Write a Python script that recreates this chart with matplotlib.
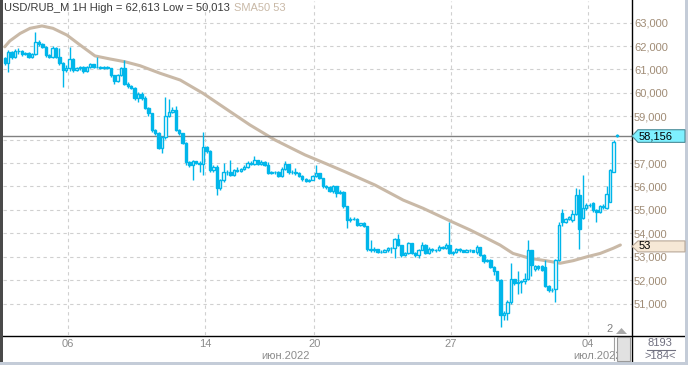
import matplotlib
matplotlib.use('Agg')
import matplotlib.pyplot as plt
import matplotlib.transforms as mtransforms
from matplotlib.patches import Polygon, Rectangle
from matplotlib.lines import Line2D
import numpy as np

plt.rcParams['font.family'] = ['Liberation Sans', 'DejaVu Sans']

# USD/RUB_M, 1H bars (price in RUB)
opens = [61.48, 61.28, 61.75, 61.52, 61.78, 61.80, 61.66, 61.72, 61.55, 61.68,
         62.18, 62.10, 61.96, 61.62, 61.55, 61.90, 61.55, 61.28, 60.98, 61.05,
         61.45, 60.98, 61.08, 61.12, 60.92, 61.10, 61.22, 61.10, 61.12, 61.08,
         61.12, 61.05, 60.75, 60.50, 60.78, 61.05, 60.38, 60.30, 60.22, 59.77,
         59.95, 59.80, 59.34, 59.12, 58.42, 58.30, 57.63, 58.10, 59.00, 59.20,
         59.25, 58.42, 58.28, 57.85, 57.06, 56.90, 57.08, 57.02, 56.98, 57.70,
         57.50, 56.70, 56.85, 55.92, 56.28, 56.63, 56.60, 56.50, 56.70, 56.68,
         56.75, 56.84, 57.02, 56.95, 57.13, 56.95, 57.05, 56.92, 56.57, 56.62,
         56.60, 56.45, 56.76, 56.95, 56.60, 56.62, 56.58, 56.45, 56.30, 56.22,
         56.28, 56.43, 56.56, 56.35, 56.00, 55.97, 55.80, 56.00, 55.72, 55.78,
         55.15, 54.58, 54.62, 54.60, 54.36, 54.43, 54.30, 53.35, 53.30, 53.33,
         53.20, 53.22, 53.28, 53.36, 53.38, 53.74, 53.50, 53.08, 53.15, 53.57,
         53.15, 53.08, 53.30, 53.52, 53.15, 53.35, 53.28, 53.30, 53.42, 53.38,
         53.50, 53.15, 53.20, 53.32, 53.28, 53.22, 53.30, 53.28, 53.22, 53.40,
         53.08, 52.80, 52.88, 52.58, 52.38, 52.00, 50.50, 50.60, 51.08, 52.03,
         51.86, 51.90, 51.95, 52.05, 53.28, 52.48, 52.62, 52.60, 52.56, 51.76,
         51.57, 51.60, 52.86, 54.85, 54.50, 54.60, 54.58, 54.82, 55.64, 54.64,
         55.07, 55.20, 55.28, 55.00, 54.90, 55.12, 55.07, 55.35, 56.63, 58.20]
highs = [61.55, 61.85, 61.80, 61.88, 61.90, 61.82, 61.76, 61.74, 61.72, 62.61,
         62.26, 62.14, 62.00, 61.68, 62.02, 61.94, 61.90, 61.32, 61.20, 61.97,
         61.48, 61.12, 61.15, 61.14, 61.15, 61.28, 61.24, 61.55, 61.14, 61.15,
         61.14, 61.08, 60.78, 60.82, 61.12, 61.40, 60.45, 60.35, 60.25, 60.05,
         60.02, 59.85, 59.40, 59.15, 58.45, 58.32, 58.15, 59.84, 59.75, 59.40,
         59.42, 58.45, 58.30, 57.90, 57.10, 57.15, 57.10, 57.10, 58.34, 57.75,
         57.55, 56.90, 56.90, 56.32, 57.00, 56.70, 57.12, 56.75, 56.85, 56.80,
         56.90, 57.10, 57.10, 57.30, 57.15, 57.12, 57.08, 57.05, 56.66, 56.65,
         56.65, 56.82, 57.10, 56.96, 56.70, 56.78, 56.62, 56.50, 56.35, 56.32,
         56.50, 56.90, 56.58, 56.38, 56.05, 56.00, 56.05, 56.02, 55.85, 55.80,
         55.18, 54.68, 54.70, 54.65, 54.45, 54.50, 54.32, 53.72, 53.40, 53.34,
         53.27, 53.32, 53.40, 53.42, 53.80, 53.98, 53.52, 53.20, 53.62, 53.60,
         53.20, 53.35, 53.62, 53.55, 53.40, 53.38, 53.35, 53.48, 53.46, 53.60,
         54.50, 53.25, 53.38, 53.36, 53.30, 53.35, 53.34, 53.30, 53.50, 53.42,
         53.10, 52.92, 52.90, 52.60, 52.40, 52.05, 50.70, 51.15, 52.75, 52.05,
         52.40, 52.00, 52.30, 53.70, 53.30, 52.66, 52.64, 52.66, 52.85, 51.80,
         51.65, 52.90, 54.50, 55.05, 54.65, 54.75, 55.00, 55.92, 55.88, 56.50,
         55.30, 55.30, 55.32, 55.05, 55.22, 55.25, 56.00, 56.75, 58.00, 58.25]
lows = [61.20, 60.90, 61.45, 61.50, 61.68, 61.58, 61.60, 61.48, 61.50, 61.62,
        62.00, 61.90, 61.55, 61.48, 61.50, 61.48, 61.20, 60.27, 60.90, 60.95,
        60.90, 60.95, 60.98, 60.85, 60.88, 61.05, 61.05, 61.05, 61.00, 61.02,
        61.00, 60.70, 60.40, 60.45, 60.72, 60.33, 60.20, 60.15, 59.70, 59.62,
        59.70, 59.30, 59.00, 58.35, 58.20, 57.60, 57.42, 58.05, 58.95, 59.15,
        58.38, 58.20, 57.80, 56.92, 56.85, 56.28, 56.95, 56.60, 56.50, 57.45,
        56.60, 56.60, 55.64, 55.85, 56.20, 56.50, 56.45, 56.45, 56.60, 56.60,
        56.70, 56.80, 56.90, 56.92, 56.90, 56.92, 56.88, 56.52, 56.52, 56.55,
        56.40, 56.42, 56.70, 56.55, 56.55, 56.50, 56.40, 56.25, 56.18, 56.20,
        56.26, 56.40, 56.30, 55.95, 55.90, 55.75, 55.72, 55.55, 55.70, 55.10,
        54.21, 54.50, 54.55, 54.30, 54.30, 54.25, 53.25, 53.20, 53.22, 53.15,
        53.15, 53.18, 53.20, 53.15, 52.95, 53.45, 53.00, 53.05, 53.10, 53.10,
        52.98, 52.95, 53.28, 53.10, 53.10, 53.20, 53.22, 53.25, 53.32, 53.35,
        53.10, 53.08, 53.15, 53.20, 53.18, 53.20, 53.22, 53.18, 53.12, 53.02,
        52.75, 52.78, 52.50, 52.22, 51.95, 50.01, 50.30, 50.30, 51.00, 51.80,
        51.40, 51.45, 51.85, 52.00, 52.17, 52.40, 52.45, 52.40, 51.70, 51.50,
        51.50, 51.08, 52.80, 54.30, 54.45, 54.55, 54.50, 54.80, 53.32, 54.60,
        55.00, 55.12, 54.90, 54.50, 54.85, 55.05, 55.05, 55.35, 56.60, 58.10]
closes = [61.28, 61.75, 61.52, 61.78, 61.80, 61.66, 61.72, 61.55, 61.68, 62.18,
          62.10, 61.96, 61.62, 61.55, 61.90, 61.55, 61.28, 60.98, 61.05, 61.45,
          60.98, 61.08, 61.12, 60.92, 61.10, 61.22, 61.10, 61.12, 61.08, 61.12,
          61.05, 60.75, 60.50, 60.78, 61.05, 60.38, 60.30, 60.22, 59.77, 59.95,
          59.80, 59.34, 59.12, 58.42, 58.30, 57.63, 58.10, 59.00, 59.20, 59.25,
          58.42, 58.28, 57.85, 57.06, 56.90, 57.08, 57.02, 56.98, 57.70, 57.50,
          56.70, 56.85, 55.92, 56.28, 56.63, 56.60, 56.50, 56.70, 56.68, 56.75,
          56.84, 57.02, 56.95, 57.13, 56.95, 57.05, 56.92, 56.57, 56.62, 56.60,
          56.45, 56.76, 56.95, 56.60, 56.62, 56.58, 56.45, 56.30, 56.22, 56.28,
          56.43, 56.56, 56.35, 56.00, 55.97, 55.80, 56.00, 55.72, 55.78, 55.15,
          54.58, 54.62, 54.60, 54.36, 54.43, 54.30, 53.35, 53.30, 53.33, 53.20,
          53.22, 53.28, 53.36, 53.38, 53.74, 53.50, 53.08, 53.15, 53.57, 53.15,
          53.08, 53.30, 53.52, 53.15, 53.35, 53.28, 53.30, 53.42, 53.38, 53.50,
          53.15, 53.20, 53.32, 53.28, 53.22, 53.30, 53.28, 53.22, 53.40, 53.08,
          52.80, 52.88, 52.58, 52.38, 52.00, 50.50, 50.60, 51.08, 52.03, 51.86,
          51.90, 51.95, 52.05, 53.28, 52.65, 52.62, 52.50, 52.45, 51.76, 51.57,
          51.58, 52.86, 54.35, 54.50, 54.60, 54.70, 54.82, 55.64, 54.17, 55.10,
          55.20, 55.22, 55.00, 54.90, 55.17, 55.17, 55.70, 56.70, 57.90, 58.16]

# SMA50 line, read at bar positions
sma_pos = [0, 1.5, 4.5, 7.4, 10.9, 14.1, 18.2, 22, 26.4, 30.8, 35.2, 39.6, 45.4,
           51.3, 58, 65.9, 71.7, 79, 84.9, 87.8, 93.7, 99.5, 108.3, 116.5, 122.3,
           130.2, 136.1, 139, 144.8, 148.6, 153.6, 158.6, 162.4, 166.2, 170.3,
           174.1, 177.9, 180]
sma_vals = [61.97, 62.22, 62.54, 62.76, 62.86, 62.76, 62.47, 62.05, 61.58, 61.45,
            61.33, 61.16, 60.84, 60.55, 59.98, 59.20, 58.63, 57.99, 57.56, 57.35,
            56.99, 56.63, 56.06, 55.42, 55.07, 54.53, 54.14, 53.93, 53.50, 53.14,
            52.93, 52.82, 52.72, 52.83, 53.00, 53.14, 53.36, 53.50]

day_pos = [18.5, 58.5, 90.5, 130.5, 170.5]
day_labels = ['06', '14', '20', '27', '04']
month_labels = ['июн.2022', 'июл.2022']
price_ticks = list(range(51, 64))
last_price = 58.156
sma_label = '53'

W, H = 688, 365
fig = plt.figure(figsize=(W / 100, H / 100), dpi=100)
fig.patch.set_facecolor('white')
ax = fig.add_axes([3 / W, 30 / H, 629 / W, 334 / H])
ax.set_facecolor('white')

candle = '#00b6ea'
o = np.array(opens)
h = np.array(highs)
l = np.array(lows)
c = np.array(closes)
idx = np.arange(len(c))
up = c >= o
body = np.maximum(np.abs(c - o), 0.02)

ax.vlines(idx, l, h, color=candle, lw=1.0, zorder=3)
ax.bar(idx[up], body[up], bottom=o[up], width=0.7, facecolor='white',
       edgecolor=candle, lw=1.0, zorder=4)
ax.bar(idx[~up], body[~up], bottom=c[~up], width=0.7, facecolor=candle,
       edgecolor=candle, lw=1.0, zorder=4)

ax.plot(sma_pos, sma_vals, color='#c9b9a7', lw=2.2, zorder=2,
        solid_joinstyle='round', solid_capstyle='round')
ax.axhline(last_price, color='#808080', lw=1.0, zorder=2.5)

ax.set_xlim(-0.5, 183.4)
ax.set_ylim(49.654, 63.927)
ax.set_yticks(price_ticks)
# the 58,000 label sits under the current-price tag, so it is left blank
ax.set_yticklabels(['' if v == 58 else f'{v:.3f}'.replace('.', ',')
                    for v in price_ticks])
ax.set_xticks(day_pos)
ax.set_xticklabels(day_labels)
ax.grid(True, color='#d0d0d0', ls=(0, (3, 3)), lw=0.8)
ax.set_axisbelow(True)
ax.yaxis.tick_right()
ax.tick_params(axis='y', length=0, pad=1.5, labelsize=8, labelcolor='#a08c76')
ax.tick_params(axis='x', length=0, pad=3, labelsize=8, labelcolor='#8c8c8c')
for s in ax.spines.values():
    s.set_visible(False)

# helpers for pixel-positioned decorations
def fx(x):
    return x / W

def fy(y):
    return 1 - y / H

t1 = fig.text(fx(4), fy(8), 'USD/RUB_M 1H High = 62,613 Low = 50,013',
              ha='left', va='center', fontsize=8, color='#3a3a3a')
ax.annotate('SMA50 53', xy=(1, 0.5), xycoords=t1, xytext=(3, 0),
            textcoords='offset points', ha='left', va='center', fontsize=8,
            color='#c9b9a7', annotation_clip=False)

fig.text(fx(285), fy(356), month_labels[0], ha='center', va='center',
         fontsize=8, color='#8c8c8c')
fig.text(fx(598), fy(356), month_labels[1], ha='center', va='center',
         fontsize=8, color='#8c8c8c')

# price tags on the right scale
xpix = mtransforms.Affine2D().scale(1 / W, 1) + fig.transFigure
tag_tr = mtransforms.blended_transform_factory(xpix, ax.transData)

def price_tag(p, text, face, edge, hh):
    pts = [(632, p), (638, p + hh), (685, p + hh), (685, p - hh), (638, p - hh)]
    fig.add_artist(Polygon(pts, closed=True, transform=tag_tr, facecolor=face,
                           edgecolor=edge, lw=0.8, zorder=5))
    fig.text(639, p, text, transform=tag_tr, ha='left', va='center',
             fontsize=8, color='black', zorder=6)

price_tag(last_price, '58,156', '#7ef0ff', '#4c8c98', 0.27)
price_tag(53.44, sma_label, '#f6e8d6', '#b8a898', 0.235)

# frame lines
fig.add_artist(Line2D([0, fx(685)], [fy(335.5), fy(335.5)], color='black', lw=1.0, zorder=4))
fig.add_artist(Line2D([fx(632), fx(632)], [fy(0), fy(362)], color='black', lw=1.0, zorder=4))
fig.add_artist(Rectangle((0, 0), fx(2.5), 1, facecolor='#4a4a4a', edgecolor='none', zorder=4))
fig.add_artist(Rectangle((0, 0), 1, 3 / H, facecolor='#c4ccd8', edgecolor='none', zorder=4))
fig.add_artist(Rectangle((fx(685), 0), 3 / W, 1, facecolor='#c4ccd8', edgecolor='none', zorder=4))

# scroll widget at the bottom right of the chart
fig.add_artist(Line2D([fx(613.5), fx(613.5)], [fy(337), fy(360)], color='#a0a0a0', lw=0.8, zorder=4))
fig.add_artist(Rectangle((fx(617), fy(361)), 13 / W, 24 / H, facecolor='#e1e1e1',
                         edgecolor='#9a9a9a', lw=0.8, zorder=4))
fig.add_artist(Polygon([(fx(616), fy(334)), (fx(627), fy(334)), (fx(621.5), fy(328))],
                       closed=True, facecolor='#a8a8a8', edgecolor='none', zorder=4))
fig.text(fx(610), fy(329), '2', ha='center', va='center', fontsize=8, color='#808080')

fig.text(fx(660), fy(343), '8193', ha='center', va='center', fontsize=8, color='#707080')
fig.add_artist(Line2D([fx(647), fx(675)], [fy(349.5), fy(349.5)], color='#707080', lw=0.8))
fig.text(fx(660), fy(356), '>184<', ha='center', va='center', fontsize=8, color='#707080')

fig.savefig('out.png', dpi=100)
